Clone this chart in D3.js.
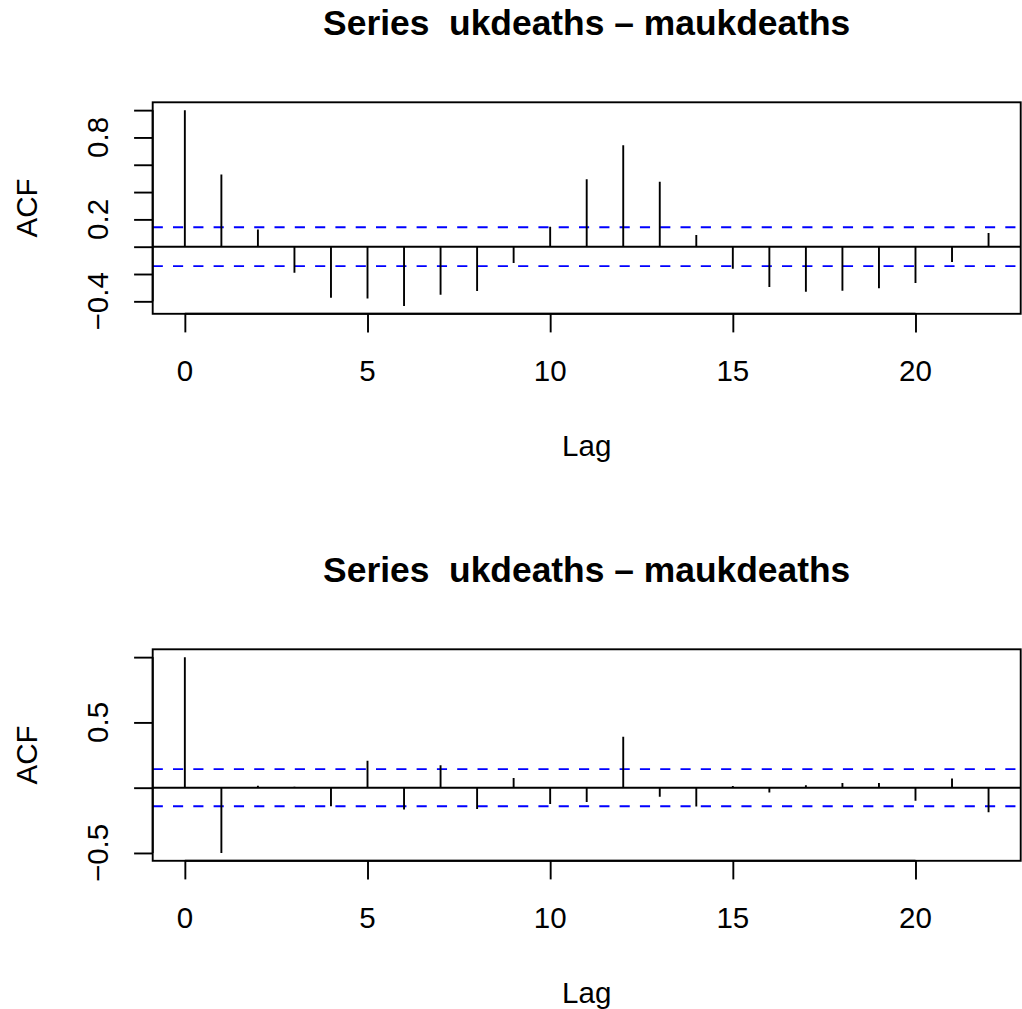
<!DOCTYPE html>
<html>
<head>
<meta charset="utf-8">
<script src="https://cdn.jsdelivr.net/npm/d3@7"></script>
<style>
  html, body { margin: 0; padding: 0; background: #fff; }
  svg { display: block; }
  text { font-family: "Liberation Sans", Arial, Helvetica, sans-serif; fill: #000; white-space: pre; }
</style>
</head>
<body>
<svg id="chart" width="1022" height="1009"></svg>
<script>
// Cross-correlation estimates of ukdeaths with its moving average, lags 0..22
const lags = [0, 1, 2, 3, 4, 5, 6, 7, 8, 9, 10, 11, 12, 13, 14, 15, 16, 17, 18, 19, 20, 21, 22];
const acfUpper = [1.0, 0.528, 0.126, -0.19, -0.373, -0.38, -0.434, -0.351, -0.324, -0.12, 0.146,
                  0.494, 0.742, 0.475, 0.085, -0.161, -0.295, -0.329, -0.322, -0.305, -0.266, -0.112, 0.1];
const acfLower = [1.0, -0.5, 0.015, 0.008, -0.143, 0.207, -0.168, 0.171, -0.163, 0.074, -0.125,
                  -0.11, 0.39, -0.069, -0.145, 0.013, -0.036, 0.018, 0.036, 0.036, -0.1, 0.071, -0.189];
// Significance bound (white-noise confidence limit)
const confLimit = 0.142;

const titleText = "Series  ukdeaths \u2013 maukdeaths";
const xLabel = "Lag";
const yLabel = "ACF";

const xTicks = [0, 5, 10, 15, 20];
const upperYTicks = [-0.4, -0.2, 0, 0.2, 0.4, 0.6, 0.8, 1.0];
const upperYLabelled = [-0.4, 0.2, 0.8];
const lowerYTicks = [-0.5, 0, 0.5, 1.0];
const lowerYLabelled = [-0.5, 0.5];

const svg = d3.select("#chart");
const fmtMinus = v => (v < 0 ? "\u2212" : "") + Math.abs(v).toFixed(1);

const LW = 1.9;           // base line width
const AX_FONT = 29.5;
const TITLE_FONT = 35.4;
const TICK_LEN = 18.6;

function panel(values, yTicks, yLabelled, box) {
  const g = svg.append("g");

  // x range padded by 4% on each side
  const xExt = d3.extent(lags);
  const xPad = (xExt[1] - xExt[0]) * 0.04;
  const x = d3.scaleLinear().domain([xExt[0] - xPad, xExt[1] + xPad]).range([box.left, box.right]);

  // y range covers the values and the confidence bounds, padded by 4%
  const yExt = d3.extent(values.concat([confLimit, -confLimit]));
  const yPad = (yExt[1] - yExt[0]) * 0.04;
  const y = d3.scaleLinear().domain([yExt[0] - yPad, yExt[1] + yPad]).range([box.bottom, box.top]);

  // clip region for lines inside the plot box
  const clipId = "clip" + Math.round(box.top);
  svg.append("clipPath").attr("id", clipId)
    .append("rect").attr("x", box.left).attr("y", box.top)
    .attr("width", box.right - box.left).attr("height", box.bottom - box.top);

  const inner = g.append("g").attr("clip-path", `url(#${clipId})`);

  // zero line
  inner.append("line")
    .attr("x1", box.left).attr("x2", box.right)
    .attr("y1", y(0)).attr("y2", y(0))
    .attr("stroke", "#000").attr("stroke-width", LW);

  // confidence bounds
  [confLimit, -confLimit].forEach(c => {
    inner.append("line")
      .attr("x1", box.left).attr("x2", box.right)
      .attr("y1", y(c)).attr("y2", y(c))
      .attr("stroke", "#0000ff").attr("stroke-width", LW)
      .attr("stroke-dasharray", "10.15,10.15");
  });

  // spikes
  inner.selectAll("line.spike").data(lags).enter().append("line")
    .attr("class", "spike")
    .attr("x1", d => x(d)).attr("x2", d => x(d))
    .attr("y1", y(0)).attr("y2", (d, i) => y(values[i]))
    .attr("stroke", "#000").attr("stroke-width", LW);

  // x axis
  const xAxis = d3.axisBottom(x).tickValues(xTicks).tickSize(TICK_LEN).tickPadding(0).tickFormat("");
  const gx = g.append("g").attr("transform", `translate(0,${box.bottom})`).call(xAxis);
  gx.select(".domain")
    .attr("d", `M${x(xTicks[0])},0H${x(xTicks[xTicks.length - 1])}`)
    .attr("stroke-width", LW);
  gx.selectAll(".tick line").attr("stroke-width", LW);
  g.selectAll("text.xtl").data(xTicks).enter().append("text")
    .attr("class", "xtl")
    .attr("x", d => x(d)).attr("y", box.bottom + 67)
    .attr("text-anchor", "middle").attr("font-size", AX_FONT)
    .text(d => String(d));

  // y axis
  const yAxis = d3.axisLeft(y).tickValues(yTicks).tickSize(TICK_LEN).tickFormat("");
  const gy = g.append("g").attr("transform", `translate(${box.left},0)`).call(yAxis);
  gy.select(".domain")
    .attr("d", `M0,${y(yTicks[0])}V${y(yTicks[yTicks.length - 1])}`)
    .attr("stroke-width", LW);
  gy.selectAll(".tick line").attr("stroke-width", LW);
  g.selectAll("text.ytl").data(yLabelled).enter().append("text")
    .attr("class", "ytl")
    .attr("transform", d => `translate(${box.left - 44.4},${y(d)}) rotate(-90)`)
    .attr("text-anchor", "middle").attr("font-size", AX_FONT)
    .text(d => fmtMinus(d));

  // box
  g.append("rect")
    .attr("x", box.left).attr("y", box.top)
    .attr("width", box.right - box.left).attr("height", box.bottom - box.top)
    .attr("fill", "none").attr("stroke", "#000").attr("stroke-width", LW);

  // titles
  const cx = (box.left + box.right) / 2;
  g.append("text")
    .attr("x", cx).attr("y", box.top - 67.5)
    .attr("text-anchor", "middle").attr("font-size", TITLE_FONT).attr("font-weight", "bold")
    .text(titleText);
  g.append("text")
    .attr("x", cx).attr("y", box.bottom + 142)
    .attr("text-anchor", "middle").attr("font-size", AX_FONT)
    .text(xLabel);
  g.append("text")
    .attr("transform", `translate(${36.7},${(box.top + box.bottom) / 2}) rotate(-90)`)
    .attr("text-anchor", "middle").attr("font-size", AX_FONT)
    .text(yLabel);
}

panel(acfUpper, upperYTicks, upperYLabelled, { left: 152.7, right: 1020.7, top: 102.3, bottom: 313.8 });
panel(acfLower, lowerYTicks, lowerYLabelled, { left: 152.7, right: 1020.7, top: 649.3, bottom: 860.8 });
</script>
</body>
</html>
